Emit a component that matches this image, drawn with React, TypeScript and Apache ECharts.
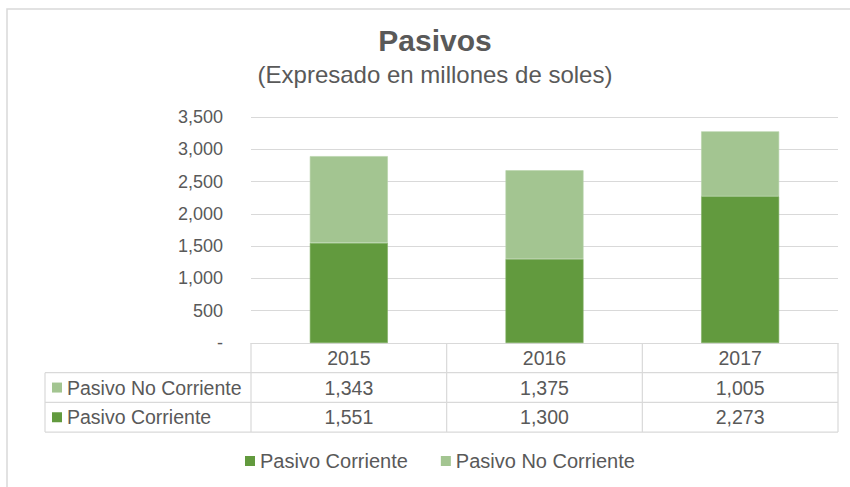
import React, { useEffect, useRef } from "react";
import * as echarts from "echarts";

const categories = ["2015", "2016", "2017"];
const pasivoCorriente = [1551, 1300, 2273];
const pasivoNoCorriente = [1343, 1375, 1005];
const seriesNames = ["Pasivo Corriente", "Pasivo No Corriente"];
const yTicks = { min: 0, max: 3500, interval: 500 };

const DARK = "#629A3E";
const LIGHT = "#A3C591";
const TEXT = "#595959";
const LINE = "#D9D9D9";
const FONT = "'Liberation Sans', Arial, sans-serif";

const fmt = (v: number) => (v === 0 ? "-" : v.toLocaleString("en-US"));

export default function App() {
  const ref = useRef<HTMLDivElement>(null);
  useEffect(() => {
    if (!ref.current) return;
    const chart = echarts.init(ref.current, undefined, { renderer: "svg" });
    const gridLeft = 251;
    const gridRight = 850 - 838;
    const gridTop = 117;
    const gridBottom = 487 - 343;
    chart.setOption({
      animation: false,
      backgroundColor: "#ffffff",
      textStyle: { fontFamily: FONT },
      title: {
        text: "Pasivos",
        subtext: "(Expresado en millones de soles)",
        left: 430,
        textAlign: "center",
        top: 20,
        itemGap: 7,
        textStyle: { fontSize: 30, fontWeight: "bold", color: TEXT, fontFamily: FONT },
        subtextStyle: { fontSize: 24, color: TEXT, fontFamily: FONT },
      },
      legend: {
        data: seriesNames,
        top: 451,
        left: 245,
        padding: 0,
        icon: "rect",
        itemWidth: 10,
        itemHeight: 10,
        itemGap: 33,
        itemStyle: { borderWidth: 0 },
        textStyle: { fontSize: 20, color: TEXT, fontFamily: FONT },
      },
      grid: { left: gridLeft, right: gridRight, top: gridTop, bottom: gridBottom, containLabel: false },
      xAxis: {
        type: "category",
        data: categories,
        axisLine: { show: true, lineStyle: { color: LINE } },
        axisTick: { show: false },
        axisLabel: { fontSize: 19.5, color: TEXT, margin: 5, fontFamily: FONT },
      },
      yAxis: {
        type: "value",
        min: yTicks.min,
        max: yTicks.max,
        interval: yTicks.interval,
        axisLine: { show: false },
        axisTick: { show: false },
        splitLine: { lineStyle: { color: LINE, width: 1 } },
        axisLabel: {
          fontSize: 18,
          color: TEXT,
          margin: 28,
          fontFamily: FONT,
          formatter: (v: number) => fmt(v),
        },
      },
      series: [
        {
          name: seriesNames[0],
          type: "bar",
          stack: "total",
          data: pasivoCorriente,
          barWidth: 78,
          itemStyle: { color: DARK, borderColor: "#7FAE62", borderWidth: 0.6 },
        },
        {
          name: seriesNames[1],
          type: "bar",
          stack: "total",
          data: pasivoNoCorriente,
          barWidth: 78,
          itemStyle: { color: LIGHT, borderColor: "#B6D1A8", borderWidth: 0.6 },
        },
      ],
    });

    // data table built from axis positions
    const xs = categories.map((c) => chart.convertToPixel({ xAxisIndex: 0 }, c) as number);
    const colW = xs.length > 1 ? xs[1] - xs[0] : 195;
    const tableTop = 343;
    const rowH = 29.7;
    const tLeft = 45;
    const colLeft = xs[0] - colW / 2;
    const colRight = xs[xs.length - 1] + colW / 2;
    const rows = [
      { name: seriesNames[1], color: LIGHT, values: pasivoNoCorriente },
      { name: seriesNames[0], color: DARK, values: pasivoCorriente },
    ];
    const els: any[] = [];
    const hl = (x1: number, x2: number, y: number) =>
      els.push({ type: "line", shape: { x1, y1: y, x2, y2: y }, style: { stroke: LINE, lineWidth: 1.2 }, silent: true });
    const vl = (x: number, y1: number, y2: number) =>
      els.push({ type: "line", shape: { x1: x, y1, x2: x, y2 }, style: { stroke: LINE, lineWidth: 1.2 }, silent: true });
    const yEnd = tableTop + rowH * 3;
    for (let r = 1; r <= 3; r++) hl(tLeft, colRight, tableTop + rowH * r);
    vl(tLeft, tableTop + rowH, yEnd);
    for (let i = 0; i <= xs.length; i++) vl(colLeft + colW * i, tableTop, yEnd);
    rows.forEach((row, r) => {
      const cy = tableTop + rowH * (r + 1.5);
      els.push({ type: "rect", shape: { x: tLeft + 7, y: cy - 5, width: 10, height: 10 }, style: { fill: row.color }, silent: true });
      els.push({
        type: "text",
        x: tLeft + 22,
        y: cy,
        style: { text: row.name, fontSize: 19.5, fill: TEXT, fontFamily: FONT, verticalAlign: "middle", align: "left" },
        silent: true,
      });
      row.values.forEach((v, i) => {
        els.push({
          type: "text",
          x: xs[i],
          y: cy,
          style: { text: fmt(v), fontSize: 19.5, fill: TEXT, fontFamily: FONT, verticalAlign: "middle", align: "center" },
          silent: true,
        });
      });
    });
    // chart outer border
    els.push({
      type: "rect",
      shape: { x: 7, y: 9, width: 860, height: 500 },
      style: { fill: "none", stroke: LINE, lineWidth: 1.5 },
      silent: true,
      z: -1,
    });
    chart.setOption({ graphic: { elements: els } });
    return () => chart.dispose();
  }, []);
  return (
    <div
      ref={ref}
      style={{ position: "fixed", left: 0, top: 0, width: 850, height: 487 }}
    />
  );
}
